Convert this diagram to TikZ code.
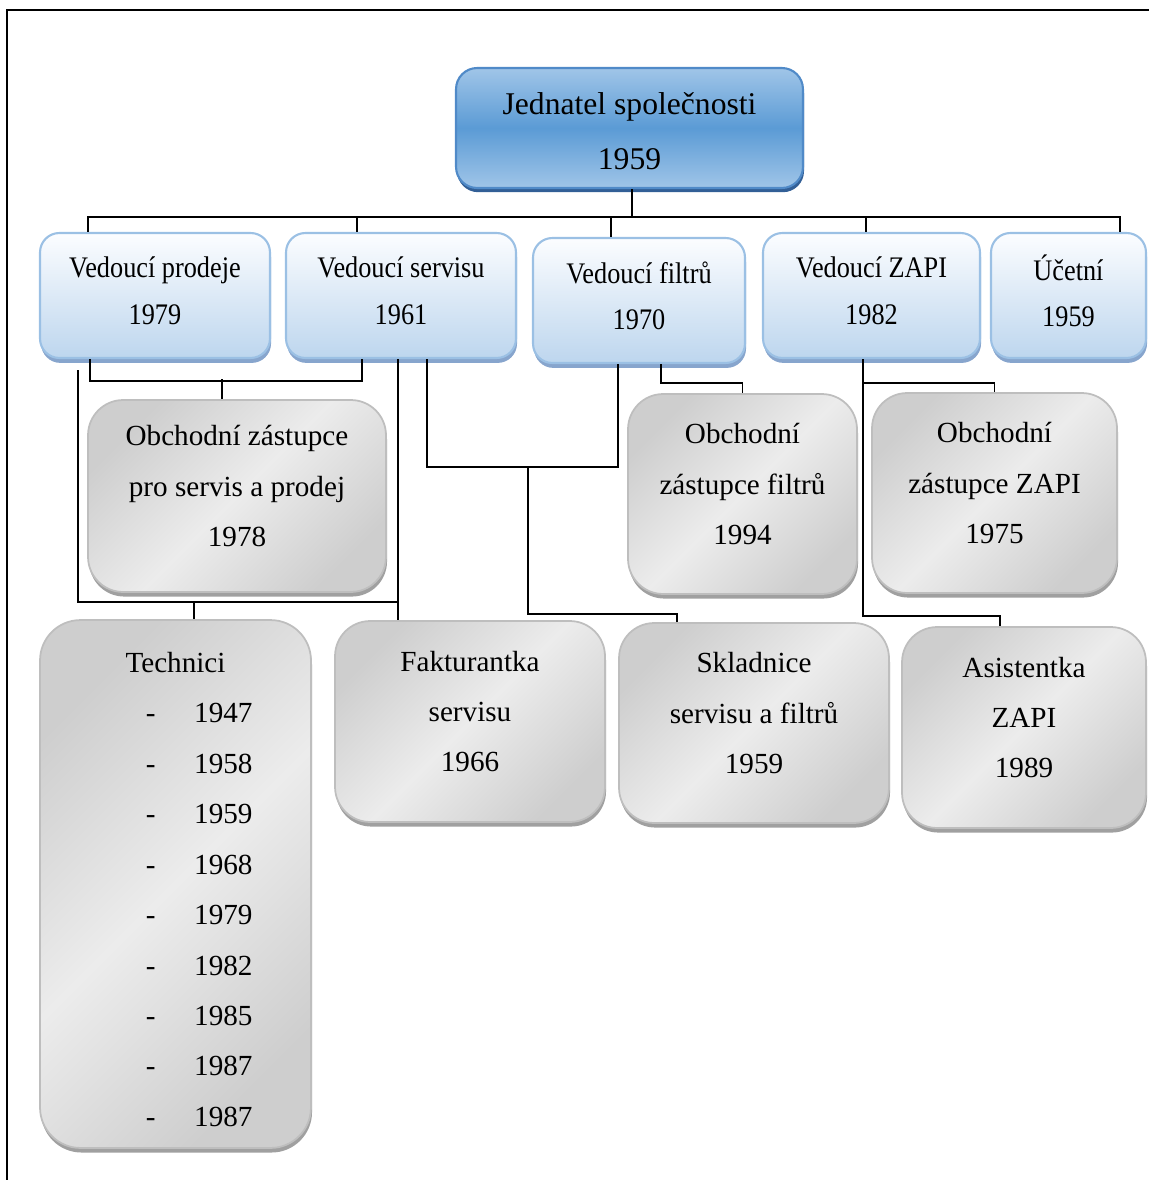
\documentclass[tikz,border=0pt]{standalone}
\usepackage{fontspec}
\setmainfont{Liberation Serif}
\newfontfamily\narrowserif{Liberation Serif}[FakeStretch=0.88]
\usetikzlibrary{calc,shadows}
\definecolor{ceotop}{RGB}{160,197,232}
\definecolor{ceomid}{RGB}{91,155,213}
\definecolor{ceoline}{RGB}{80,138,200}
\definecolor{ceoshade}{RGB}{50,95,150}
\definecolor{headtop}{RGB}{252,253,255}
\definecolor{headbot}{RGB}{189,214,238}
\definecolor{headline}{RGB}{155,192,228}
\definecolor{headshade}{RGB}{135,165,205}
\definecolor{staffdark}{RGB}{206,206,206}
\definecolor{stafflight}{RGB}{236,236,236}
\definecolor{staffline}{RGB}{190,190,190}
\definecolor{staffshade}{RGB}{160,160,160}
\tikzset{
  ceo/.style={draw=ceoline,line width=1.2pt,rounded corners=12pt,top color=ceotop,bottom color=ceotop,middle color=ceomid,align=center,font=\fontsize{18}{31.2}\selectfont,text height=47.5pt,drop shadow={shadow xshift=0.6pt,shadow yshift=-2.4pt,fill=ceoshade,opacity=1}},
  head/.style={draw=headline,line width=1.2pt,rounded corners=11pt,top color=headtop,bottom color=headbot,align=center,font=\narrowserif\fontsize{17}{26.4}\selectfont,text depth=5.7pt,minimum height=2.5cm,drop shadow={shadow xshift=0.6pt,shadow yshift=-2.8pt,fill=headshade,opacity=1}},
  staff/.style={draw=staffline,line width=1pt,rounded corners=20pt,top color=staffdark,bottom color=staffdark,middle color=stafflight,shading angle=45,align=center,font=\fontsize{16.6}{28.6}\selectfont,text depth=11.3pt,drop shadow={shadow xshift=0.6pt,shadow yshift=-2.6pt,fill=staffshade,opacity=1}},
  con/.style={line width=1pt,black}
}

\begin{document}
\begin{tikzpicture}[x=0.02cm,y=-0.02cm]
\useasboundingbox (0,0) rectangle (1149,1180);
\draw[line width=0.6pt] (7,1180) -- (7,10) -- (1149,10);
\node[ceo,minimum width=6.94cm,minimum height=2.4cm] (jednatel) at (629.5,128) {Jednatel společnosti\\1959};
\node[head,minimum width=4.6cm] (prodeje) at (155,295.5) {Vedoucí prodeje\\1979};
\node[head,minimum width=4.6cm] (servisu) at (401,295.5) {Vedoucí servisu\\1961};
\node[head,minimum width=4.24cm] (filtry) at (639,300.5) {Vedoucí filtrů\\1970};
\node[head,minimum width=4.34cm] (zapi) at (871.5,295.5) {Vedoucí ZAPI\\1982};
\node[head,minimum width=3.1cm] (ucetni) at (1068.5,295.5) {Účetní\\1959};
\node[staff,minimum width=5.96cm,minimum height=3.84cm] (zastsp) at (237,496) {Obchodní zástupce\\pro servis a prodej\\1978};
\node[staff,minimum width=4.58cm,minimum height=4cm] (zastf) at (742.5,494) {Obchodní\\zástupce filtrů\\1994};
\node[staff,minimum width=4.9cm,minimum height=4cm] (zastz) at (994.5,493) {Obchodní\\zástupce ZAPI\\1975};
\node[staff,rounded corners=23pt,font=\fontsize{16.6}{28.7}\selectfont,text height=275.8pt,text depth=0pt,minimum width=5.42cm,minimum height=10.56cm] (technici) at (175.5,884) {Technici\\
\hspace*{27pt}-\hspace{22pt}1947\\
\hspace*{27pt}-\hspace{22pt}1958\\
\hspace*{27pt}-\hspace{22pt}1959\\
\hspace*{27pt}-\hspace{22pt}1968\\
\hspace*{27pt}-\hspace{22pt}1979\\
\hspace*{27pt}-\hspace{22pt}1982\\
\hspace*{27pt}-\hspace{22pt}1985\\
\hspace*{27pt}-\hspace{22pt}1987\\
\hspace*{27pt}-\hspace{22pt}1987};
\node[staff,minimum width=5.4cm,minimum height=4.02cm] (fakt) at (470,721.5) {Fakturantka\\servisu\\1966};
\node[staff,minimum width=5.4cm,minimum height=4cm] (sklad) at (754,723) {Skladnice\\servisu a filtrů\\1959};
\node[staff,minimum width=4.88cm,minimum height=4.02cm] (asist) at (1024,727.5) {Asistentka\\ZAPI\\1989};
\draw[con] ($(jednatel.south)+(2.5,0)$) -- ++(0,28) coordinate (bus);
\foreach \n/\dx in {prodeje/-67,servisu/-44,filtry/-28,zapi/-5.5,ucetni/51.5}
  \draw[con] ($(\n.north)+(\dx,0)$) |- (bus);
\draw[con] ($(prodeje.south)+(-65,0)$) -- ++(0,22) -| ($(servisu.south)+(-39,0)$);
\draw[con] ($(zastsp.north)+(-15,0)$) -- ++(0,-20);
\draw[con] ($(prodeje.south)+(-77,11)$) |- ($(fakt.north)+(-72,-18)$);
\draw[con] ($(servisu.south)+(-3,0)$) -- ($(fakt.north)+(-72,0)$);
\draw[con] ($(technici.north)+(18.5,0)$) -- ++(0,-17);
\draw[con] ($(servisu.south)+(26,0)$) |- ($(filtry.south)+(-21,103)$) -- ($(filtry.south)+(-21,0)$);
\draw[con] ($(sklad.north)+(-77,0)$) -- ++(0,-8) -| ($(filtry.south)+(-111,103)$);
\draw[con] ($(filtry.south)+(22,0)$) -- ++(0,19) -| (zastf.north);
\draw[con] ($(zapi.south)+(-8.5,0)$) |- ($(asist.north)+(-24,-10)$) -- ($(asist.north)+(-24,0)$);
\draw[con] ($(zapi.south)+(-8.5,24)$) -| (zastz.north);
\end{tikzpicture}
\end{document}
